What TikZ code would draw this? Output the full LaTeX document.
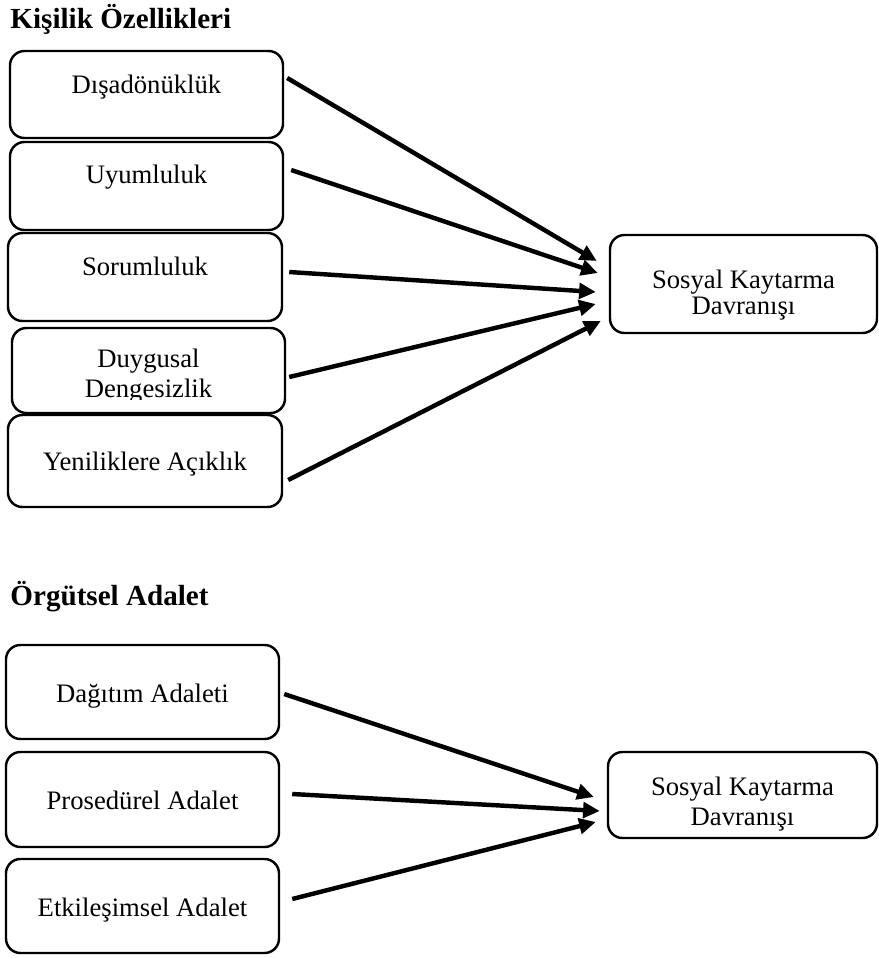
\documentclass[tikz,border=0pt]{standalone}
\usepackage{fontspec}
\setmainfont{Liberation Serif}
\usetikzlibrary{arrows.meta,fit}

\begin{document}
\begin{tikzpicture}[
  x=0.45pt, y=-0.45pt,
  panel/.style={draw, line width=1.1pt, rounded corners=6.5pt, inner sep=0pt},
  caption/.style={anchor=base, inner sep=0pt, font=\fontsize{12}{14}\selectfont},
  heading/.style={anchor=base west, inner sep=0pt, font=\fontsize{13.1}{15}\selectfont\bfseries},
  link/.style={line width=2pt, -{Triangle[length=7.5pt,width=7pt]}}
  ]
\useasboundingbox[fill=white] (0,0) rectangle (879,958);

% Kisilik Ozellikleri
\node[heading] (kisilik) at (10,28) {Kişilik Özellikleri};
\node[panel, fit={(10,51) (283,138)}] (d1) {};
\node[panel, fit={(10,142) (283,230)}] (d2) {};
\node[panel, fit={(8,233) (282,321)}] (d3) {};
\node[panel, fit={(12,328) (285,413)}] (d4) {};
\node[panel, fill=white, fit={(8,415) (282,507)}] (d5) {};
\node[panel, fit={(610,235) (877,333)}] (sk1) {};

\node[caption] (d1t) at (146.5,93) {Dışadönüklük};
\node[caption] (d2t) at (146.5,183) {Uyumluluk};
\node[caption] (d3t) at (145,275) {Sorumluluk};
\node[caption] (d4a) at (148.5,367) {Duygusal};
\begin{scope}
  \clip (12,328) rectangle (285,399);
  \node[caption] (d4b) at (148.5,397) {Dengesizlik};
\end{scope}
\node[caption] (d5t) at (145,470) {Yeniliklere Açıklık};
\node[caption] (sk1a) at (743.5,288) {Sosyal Kaytarma};
\node[caption] (sk1b) at (743.5,314) {Davranışı};

\draw[link] ([shift={(3,-16.5)}]d1.east) -- ([shift={(-12,-23)}]sk1.west);
\draw[link] ([shift={(7,-16)}]d2.east) -- ([shift={(-11,-11)}]sk1.west);
\draw[link] ([shift={(6,-5)}]d3.east) -- ([shift={(-13,8)}]sk1.west);
\draw[link] ([shift={(3,6.5)}]d4.east) -- ([shift={(-13,20)}]sk1.west);
\draw[link] ([shift={(5,19)}]d5.east) -- ([shift={(-8,37)}]sk1.west);

% Orgutsel Adalet
\node[heading] (adalet) at (10,605) {Örgütsel Adalet};
\node[panel, fit={(6,645) (279,739)}] (a1) {};
\node[panel, fit={(6,752) (279,847)}] (a2) {};
\node[panel, fit={(6,859) (279,953)}] (a3) {};
\node[panel, fit={(608,752) (877,838)}] (sk2) {};

\node[caption] (a1t) at (142.5,702) {Dağıtım Adaleti};
\node[caption] (a2t) at (142.5,809) {Prosedürel Adalet};
\node[caption] (a3t) at (142.5,916) {Etkileşimsel Adalet};
\node[caption] (sk2a) at (742.5,795) {Sosyal Kaytarma};
\node[caption] (sk2b) at (742.5,825) {Davranışı};

\draw[link] ([shift={(4,2)}]a1.east) -- ([shift={(-13,2)}]sk2.west);
\draw[link] ([shift={(12,-5.5)}]a2.east) -- ([shift={(-7,16)}]sk2.west);
\draw[link] ([shift={(12,-7)}]a3.east) -- ([shift={(-11,27)}]sk2.west);
\end{tikzpicture}
\end{document}
